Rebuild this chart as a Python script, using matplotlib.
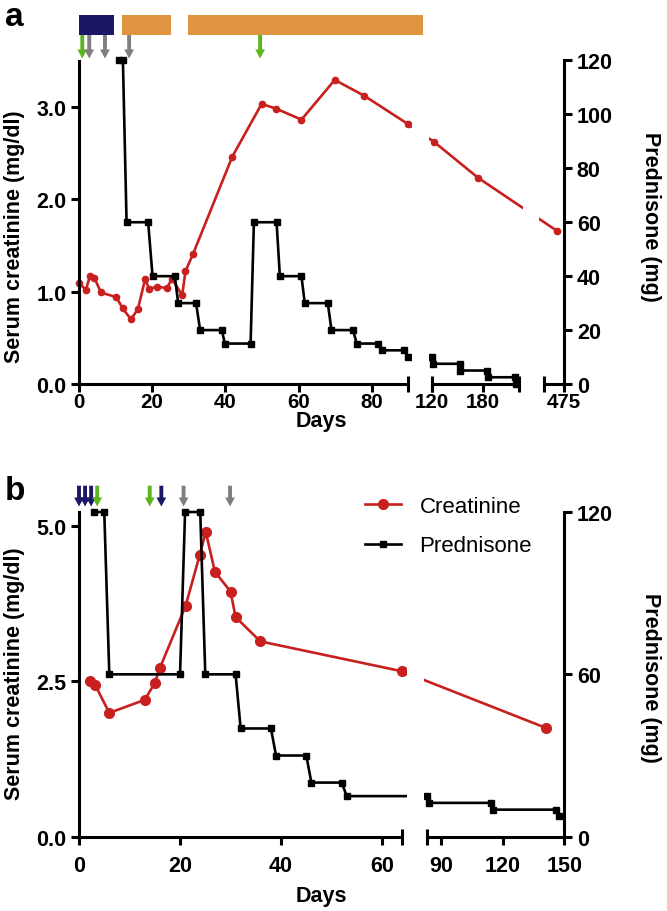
import matplotlib
matplotlib.use('Agg')
import matplotlib.pyplot as plt
import numpy as np
from matplotlib.ticker import NullLocator, FormatStrFormatter

plt.rcParams['font.family'] = ['Liberation Sans', 'DejaVu Sans']
plt.rcParams['font.weight'] = 'bold'
plt.rcParams['axes.labelweight'] = 'bold'

RED = '#c8201e'
NAVY = '#1b1766'
ORANGE = '#df943f'
GREEN = '#5cb51f'
GRAY = '#7f7f7f'

# ---- panel a data ----
a_creat_days = [0, 1.9, 3.0, 4.2, 6.0, 10.2, 11.9, 14.2, 16.1, 18.1, 19.1, 21.3, 24.1, 25.4,
                28.2, 29.1, 31.2, 41.9, 49.9, 53.8, 60.8, 69.9, 77.9, 90, 122, 174, 466]
a_creat = [1.09, 1.02, 1.17, 1.15, 0.99, 0.94, 0.82, 0.70, 0.81, 1.14, 1.03, 1.05, 1.04, 1.14,
           0.96, 1.22, 1.41, 2.46, 3.03, 2.98, 2.86, 3.29, 3.12, 2.81, 2.62, 2.23, 1.66]
a_pred_days = [11, 12, 13, 18.9, 20.1, 26.2, 27.1, 32, 33.1, 39, 39.9, 46.9, 47.8, 54, 54.9,
               60.8, 61.7, 68, 69, 74.9, 75.9, 81.8, 82.9, 88.8, 90, 120, 121, 152, 153,
               184.5, 185.5, 217, 219]
a_pred = [120, 120, 60, 60, 40, 40, 30, 30, 20, 20, 15, 15, 60, 60, 40, 40, 30, 30, 20, 20,
          15, 15, 12.5, 12.5, 10, 10, 7.5, 7.5, 5, 5, 2.5, 2.5, 0]
a_bar_start = [0, 11.7, 29.7]
a_bar_end = [9.6, 25.1, 108.7]
a_bar_color = [NAVY, ORANGE, ORANGE]
a_arrow_days = [0.9, 2.8, 7.1, 13.7, 49.5]
a_arrow_color = [GREEN, GRAY, GRAY, GRAY, GREEN]
a_xticks = [0, 20, 40, 60, 80, 120, 180, 475]
a_yticks = [0.0, 1.0, 2.0, 3.0]
a_y2ticks = [0, 20, 40, 60, 80, 100, 120]

# ---- panel b data ----
b_creat_days = [2.2, 3.2, 6, 13, 15, 16, 21.1, 23.9, 25.1, 26.9, 30, 31, 35.9, 63.9, 141]
b_creat = [2.51, 2.44, 1.99, 2.20, 2.47, 2.71, 3.71, 4.53, 4.90, 4.26, 3.94, 3.53, 3.14, 2.66, 1.75]
b_pred_days = [3, 5, 6, 20, 21, 24, 25, 31, 32, 38, 39, 45, 46, 52, 53, 83.5, 84.3, 114.3,
               115.6, 146, 147.5]
b_pred = [120, 120, 60, 60, 120, 120, 60, 60, 40, 40, 30, 30, 20, 20, 15, 15, 12.5, 12.5,
          10, 10, 7.5]
b_arrow_days = [0, 1.2, 2.4, 3.6, 14.0, 16.3, 20.7, 29.9]
b_arrow_color = [NAVY, NAVY, NAVY, GREEN, GREEN, NAVY, GRAY, GRAY]
b_xticks = [0, 20, 40, 60, 90, 120, 150]
b_yticks = [0.0, 2.5, 5.0]
b_y2ticks = [0, 60, 120]

W, H = 667, 912


def broken_scale(days, px):
    # piecewise linear day -> pixel mapping used for the broken x axis
    d = np.asarray(days, float)
    p = np.asarray(px, float)

    def make(a, b):
        def f(x):
            x = np.asarray(x, float)
            y = np.interp(x, a, b)
            y = np.where(x < a[0], b[0] + (x - a[0]) * (b[1] - b[0]) / (a[1] - a[0]), y)
            y = np.where(x > a[-1], b[-1] + (x - a[-1]) * (b[-1] - b[-2]) / (a[-1] - a[-2]), y)
            return y
        return f
    return make(d, p), make(p, d)


def panel(top, bottom, scale_days, scale_px, segs, caps, gaps_px,
          cdays, cvals, pdays, pvals, ytop, xticks, yticks, y2ticks, cms, tickpad, xsize):
    ax = fig.add_axes([79 / W, 1 - bottom / H, (564.3 - 79) / W, (bottom - top) / H])
    fwd, inv = broken_scale(scale_days, scale_px)
    ax.set_xscale('function', functions=(fwd, inv))
    ax2 = ax.twinx()

    l1, = ax.plot(cdays, cvals, color=RED, lw=1.9, marker='o', ms=cms, label='Creatinine',
                  clip_on=False)
    l2, = ax2.plot(pdays, pvals, color='black', lw=1.9, marker='s', ms=4.5, label='Prednisone',
                   clip_on=False)

    # white gaps hide the lines where the x axis is broken
    for g0, g1 in gaps_px:
        ax2.axvspan(float(inv(g0)), float(inv(g1)), color='white', lw=0, zorder=4)

    for s0, s1 in segs:
        ax.plot([s0, s1], [0, 0], color='black', lw=2.2, solid_capstyle='butt', clip_on=False)
    ax.plot(caps, [0] * len(caps), ls='none', marker='|', ms=11, mew=2.2, color='black',
            clip_on=False)

    ax.set_xlim(scale_days[0], scale_days[-1])
    ax.set_ylim(0, ytop)
    ax2.set_ylim(0, 120)
    ax.set_xticks(xticks)
    ax.xaxis.set_minor_locator(NullLocator())
    ax.set_yticks(yticks)
    ax.yaxis.set_major_formatter(FormatStrFormatter('%.1f'))
    ax2.set_yticks(y2ticks)

    for a in (ax, ax2):
        for sp in a.spines.values():
            sp.set_visible(False)
            sp.set_linewidth(2.2)
    ax.spines['left'].set_visible(True)
    ax2.spines['right'].set_visible(True)
    ax.tick_params(axis='both', direction='out', length=6, width=2.2, labelsize=15.5, pad=3)
    ax.tick_params(axis='x', pad=tickpad, labelsize=xsize)
    ax2.tick_params(axis='y', direction='out', length=6, width=2.2, labelsize=15.5, pad=3)

    ax.set_xlabel('Days', fontsize=15.5, va='center')
    ax.set_ylabel('Serum creatinine (mg/dl)', fontsize=15.5, va='center')
    ax2.set_ylabel('Prednisone (mg)', fontsize=15.5, rotation=270, va='center')
    return ax, ax2, l1, l2


def arrows(ax, days, colors, tail, tip):
    for d, c in zip(days, colors):
        ax.annotate('', xy=(d, tip), xycoords=('data', 'axes fraction'),
                    xytext=(d, tail), textcoords=('data', 'axes fraction'),
                    arrowprops=dict(arrowstyle='simple,head_width=0.7,head_length=0.65,tail_width=0.28',
                                    color=c, shrinkA=0, shrinkB=0, mutation_scale=10, lw=0),
                    annotation_clip=False)


fig = plt.figure(figsize=(W / 100, H / 100), dpi=100)

# panel a
axA, axA2, _, _ = panel(61.5, 385, [0, 90, 120, 222, 451.5, 475],
                        [79, 408.3, 432.3, 519, 544, 564.3],
                        [(0, 90), (120, 222), (451.5, 475)], [90, 120, 222, 451.5],
                        [(412, 428.5), (523, 539)],
                        a_creat_days, a_creat, a_pred_days, a_pred, 3.5,
                        a_xticks, a_yticks, a_y2ticks, 4.5, 0, 14.8)
hA = 385 - 61.5
axA.yaxis.set_label_coords((15 - 79) / 485.3, (385 - 237) / hA)
axA2.yaxis.set_label_coords((651 - 79) / 485.3, (385 - 216.5) / hA)
axA.xaxis.set_label_coords(0.499, (385 - 422) / hA)
for s, e, c in zip(a_bar_start, a_bar_end, a_bar_color):
    axA.axvspan(s, e, ymin=(385 - 35.7) / hA, ymax=(385 - 15.7) / hA, color=c, lw=0, clip_on=False)
arrows(axA, a_arrow_days, a_arrow_color, (385 - 36) / hA, (385 - 59.5) / hA)

# panel b
axB, axB2, l1, l2 = panel(513, 837.7, [0, 64, 83.2, 150], [79, 402.3, 426.7, 564.3],
                          [(0, 64), (83.2, 150)], [64, 83.2],
                          [(407, 423.5)],
                          b_creat_days, b_creat, b_pred_days, b_pred, 5.22,
                          b_xticks, b_yticks, b_y2ticks, 7, 7, 15.5)
hB = 837.7 - 513
axB.yaxis.set_label_coords((15 - 79) / 485.3, (837.7 - 674) / hB)
axB2.yaxis.set_label_coords((651 - 79) / 485.3, (837.7 - 678) / hB)
axB.xaxis.set_label_coords(0.499, (837.7 - 897) / hB)
arrows(axB, b_arrow_days, b_arrow_color, (837.7 - 486.7) / hB, (837.7 - 507.5) / hB)
axB2.legend([l1, l2], ['Creatinine', 'Prednisone'], loc='upper left',
            bbox_to_anchor=((365 - 79) / 485.3, (837.7 - 497) / hB), frameon=False,
            prop={'weight': 'normal', 'size': 16}, handlelength=1.6, handletextpad=0.85,
            labelspacing=0.83, borderpad=0, borderaxespad=0)

fig.text(5 / W, 1 - 26 / H, 'a', fontsize=24, fontweight='bold', va='baseline')
fig.text(5 / W, 1 - 500 / H, 'b', fontsize=24, fontweight='bold', va='baseline')

fig.savefig('out.png', dpi=100)
